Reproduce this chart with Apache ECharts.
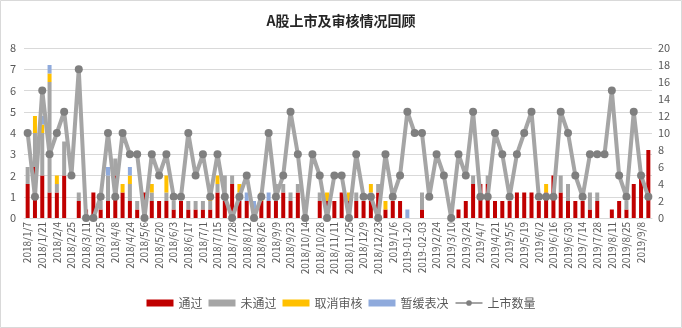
<!DOCTYPE html>
<html>
<head>
<meta charset="utf-8">
<script src="https://cdn.jsdelivr.net/npm/echarts@6/dist/echarts.min.js"></script>
<style>
  html, body { margin: 0; padding: 0; background: #fff; }
  #chart { width: 682px; height: 328px; }
</style>
</head>
<body>
<div id="chart"></div>
<script>
// Weekly IPO review results (left stacked bars, right axis) and listings (line, left axis)
const weeks = [
  '2018/1/7','2018/1/14','2018/1/21','2018/1/28','2018/2/4','2018/2/11','2018/2/25','2018/3/4',
  '2018/3/11','2018/3/18','2018/3/25','2018/4/1','2018/4/8','2018/4/15','2018/4/24','2018/4/29',
  '2018/5/6','2018/5/13','2018/5/20','2018/5/27','2018/6/3','2018/6/10','2018/6/17','2018/6/24',
  '2018/7/1','2018/7/8','2018/7/15','2018/7/22','2018/7/28','2018/8/5','2018/8/12','2018/8/19',
  '2018/8/26','2018/9/2','2018/9/9','2018/9/16','2018/9/23','2018/9/30','2018/10/14','2018/10/21',
  '2018/10/28','2018/11/4','2018/11/11','2018/11/18','2018/11/25','2018/12/2','2018/12/9','2018/12/16',
  '2018/12/23','2018/12/30','2019/1/6','2019/1/13','2019-01-20','2019-01-27','2019-02-03','2019/2/17',
  '2019/2/24','2019/3/3','2019/3/10','2019/3/17','2019/3/24','2019/3/31','2019/4/7','2019/4/14',
  '2019/4/21','2019/4/28','2019/5/5','2019/5/12','2019/5/19','2019/5/26','2019/6/2','2019/6/9',
  '2019/6/16','2019/6/23','2019/6/30','2019/7/7','2019/7/14','2019/7/21','2019/7/28','2019/8/4',
  '2019/8/11','2019/8/18','2019/8/25','2019/9/1','2019/9/8','2019/9/15'
];

const passed = [
  4,6,5,3,3,5,0,2, 1,3,1,2,5,3,2,1, 3,2,2,2,1,2,1,1, 1,1,3,2,4,2,2,1,
  2,2,2,3,2,3,0,0, 2,2,2,3,2,2,2,2, 3,1,2,2,0,0,1,0, 0,0,0,1,2,4,4,4,
  2,2,2,3,3,3,2,3, 5,3,2,2,2,1,2,0, 1,2,1,4,5,8
];
const rejected = [
  2,4,5,13,1,4,0,1, 0,0,1,3,2,0,2,1, 0,1,0,1,1,0,1,1, 1,1,1,3,1,1,0,0,
  0,0,2,1,1,1,0,0, 1,0,0,0,0,1,0,1, 1,0,0,0,0,0,2,0, 0,0,0,0,0,1,0,1,
  0,0,0,0,0,0,0,0, 0,2,2,0,0,2,1,0, 0,0,1,0,0,0
];
const cancelled = [
  0,2,1,1,1,0,0,0, 0,0,0,0,0,1,1,0, 0,1,0,2,0,0,0,0, 0,1,1,0,0,1,0,0,
  1,0,0,0,0,0,0,0, 0,1,0,0,1,0,0,1, 0,1,0,0,0,0,0,0, 0,0,0,0,0,0,0,0,
  0,0,0,0,0,0,0,1, 0,0,0,0,0,0,0,0, 0,0,0,0,0,0
];
const deferred = [
  0,0,1,1,0,0,0,0, 0,0,0,1,0,0,1,0, 0,0,0,0,0,0,0,0, 0,0,0,0,0,0,1,1,
  0,1,0,0,0,0,0,0, 0,0,0,0,0,0,0,0, 0,0,0,0,1,0,0,0, 0,0,0,0,0,0,0,0,
  0,0,0,0,0,0,0,0, 0,0,0,0,0,0,0,0, 0,0,0,0,0,0
];
const listed = [
  4,1,6,3,4,5,2,7, 0,0,1,4,1,4,3,3, 0,3,2,3,1,1,4,2, 3,1,3,1,0,1,2,0,
  1,4,1,2,5,3,0,3, 2,0,2,2,0,3,1,1, 0,3,1,2,5,4,4,1, 3,2,0,3,2,5,1,1,
  4,3,1,3,4,5,1,1, 1,5,4,2,1,3,3,3, 6,2,1,5,2,1
];

const leftTicks = { min: 0, max: 8, interval: 1 };
const rightTicks = { min: 0, max: 20, interval: 2 };

const labelColor = '#595959';
const fontFamily = '"Noto Sans CJK SC", "Noto Sans", sans-serif';

const chart = echarts.init(document.getElementById('chart'), null, { renderer: 'canvas' });

function barSeries(name, data, color) {
  return {
    name: name,
    type: 'bar',
    stack: 'review',
    yAxisIndex: 1,
    barWidth: 4,
    data: data,
    itemStyle: { color: color },
    emphasis: { disabled: true }
  };
}

chart.setOption({
  animation: false,
  backgroundColor: '#fff',
  textStyle: { fontFamily: fontFamily },
  graphic: [{
    type: 'rect',
    shape: { x: 0.5, y: 0.5, width: 681, height: 327 },
    style: { fill: 'none', stroke: '#d9d9d9', lineWidth: 1 },
    silent: true
  }],
  title: {
    text: 'A股上市及审核情况回顾',
    left: 'center',
    top: 9,
    textStyle: { fontSize: 14, fontWeight: 'bold', color: '#262626', fontFamily: fontFamily }
  },
  legend: {
    bottom: 14,
    left: 'center',
    itemWidth: 27,
    itemHeight: 7,
    itemGap: 6,
    textStyle: { fontSize: 12, color: labelColor, fontFamily: fontFamily },
    data: [
      { name: '通过', icon: 'rect' },
      { name: '未通过', icon: 'rect' },
      { name: '取消审核', icon: 'rect' },
      { name: '暂缓表决', icon: 'rect' },
      { name: '上市数量' }
    ]
  },
  grid: { left: 24, right: 30, top: 48, height: 170, containLabel: false },
  xAxis: {
    type: 'category',
    data: weeks,
    boundaryGap: true,
    axisLine: { lineStyle: { color: '#d9d9d9' } },
    axisTick: { show: false },
    axisLabel: {
      interval: 1,
      rotate: 90,
      margin: 4,
      fontSize: 10,
      color: labelColor,
      fontFamily: fontFamily
    }
  },
  yAxis: [
    {
      type: 'value',
      min: leftTicks.min, max: leftTicks.max, interval: leftTicks.interval,
      axisLine: { show: false },
      axisTick: { show: false },
      axisLabel: { fontSize: 11, color: labelColor, margin: 8 },
      splitLine: { lineStyle: { color: '#d9d9d9' } }
    },
    {
      type: 'value',
      min: rightTicks.min, max: rightTicks.max, interval: rightTicks.interval,
      axisLine: { show: false },
      axisTick: { show: false },
      axisLabel: { fontSize: 11, color: labelColor, margin: 6 },
      splitLine: { show: false }
    }
  ],
  series: [
    barSeries('通过', passed, '#c00000'),
    barSeries('未通过', rejected, '#a5a5a5'),
    barSeries('取消审核', cancelled, '#ffc000'),
    barSeries('暂缓表决', deferred, '#8faadc'),
    {
      name: '上市数量',
      type: 'line',
      yAxisIndex: 0,
      data: listed,
      symbol: 'circle',
      symbolSize: 8,
      showSymbol: true,
      showAllSymbol: true,
      lineStyle: { color: '#a5a5a5', width: 4 },
      itemStyle: { color: '#7f7f7f' },
      z: 5,
      emphasis: { disabled: true }
    }
  ]
});
</script>
</body>
</html>
